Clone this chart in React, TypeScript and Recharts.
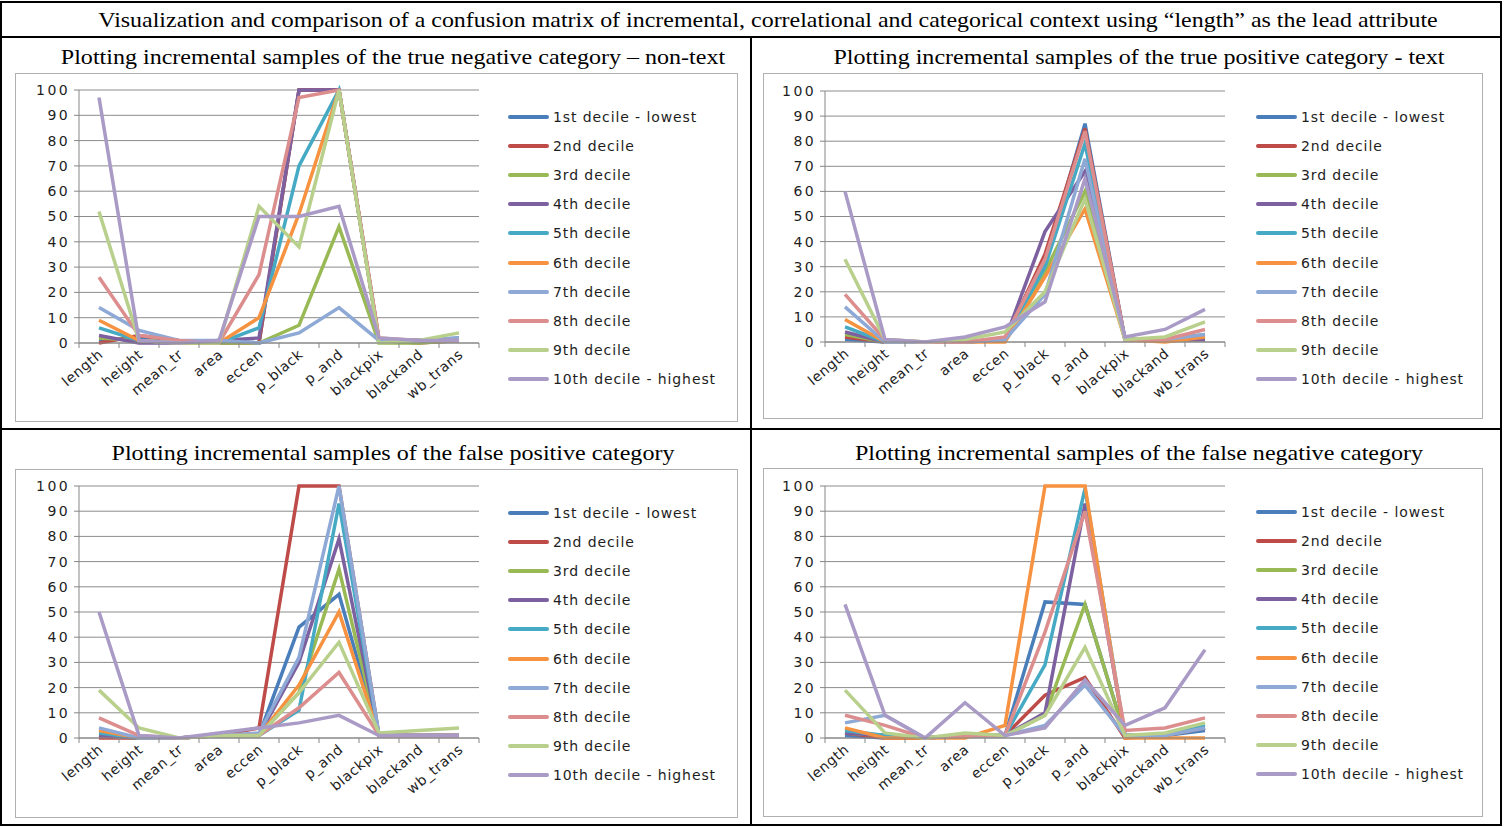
import React from 'react';
import { LineChart, Line, XAxis, YAxis, CartesianGrid } from 'recharts';

const categories = ['length', 'height', 'mean_tr', 'area', 'eccen', 'p_black', 'p_and', 'blackpix', 'blackand', 'wb_trans'];

const deciles = [
  '1st decile - lowest',
  '2nd decile',
  '3rd decile',
  '4th decile',
  '5th decile',
  '6th decile',
  '7th decile',
  '8th decile',
  '9th decile',
  '10th decile - highest',
];

const decileColors = ['#4a7ebb', '#be4b48', '#98b954', '#7d60a0', '#46aac5', '#f69240', '#8ea9d6', '#dc8e8e', '#b8d08c', '#a99ac6'];

const yTicks = [0, 10, 20, 30, 40, 50, 60, 70, 80, 90, 100];

// one row per decile, one column per category
const trueNegative = [
  [1, 2, 0, 1, 0, 100, 100, 1, 1, 2],
  [0, 3, 1, 0, 0, 100, 100, 1, 0, 1],
  [2, 1, 0, 0, 0, 7, 46, 0, 0, 1],
  [3, 0, 0, 1, 2, 100, 100, 1, 1, 1],
  [6, 1, 0, 0, 6, 70, 100, 1, 1, 1],
  [9, 1, 0, 0, 10, 51, 100, 1, 1, 1],
  [14, 5, 1, 1, 0, 4, 14, 1, 1, 2],
  [26, 3, 1, 0, 27, 97, 100, 2, 1, 1],
  [52, 1, 0, 0, 54, 38, 100, 0, 1, 4],
  [97, 1, 0, 1, 50, 50, 54, 2, 1, 1],
];

const truePositive = [
  [1, 0, 0, 0, 1, 32, 87, 1, 1, 1],
  [2, 0, 0, 0, 1, 35, 85, 1, 1, 1],
  [3, 0, 0, 0, 1, 28, 60, 1, 1, 1],
  [4, 0, 0, 0, 1, 44, 68, 1, 1, 1],
  [6, 0, 0, 0, 1, 30, 79, 1, 1, 3],
  [9, 0, 0, 0, 0, 26, 53, 1, 0, 2],
  [14, 0, 0, 0, 1, 19, 73, 1, 1, 3],
  [19, 1, 0, 0, 2, 33, 84, 1, 1, 5],
  [33, 1, 0, 1, 4, 20, 57, 1, 2, 8],
  [60, 1, 0, 2, 6, 16, 65, 2, 5, 13],
];

const falsePositive = [
  [1, 0, 0, 1, 1, 44, 57, 1, 1, 1],
  [0, 0, 0, 1, 4, 100, 100, 1, 1, 1],
  [1, 0, 0, 1, 1, 18, 67, 1, 1, 1],
  [1, 0, 0, 1, 1, 30, 79, 1, 1, 1],
  [2, 0, 0, 1, 1, 11, 93, 1, 1, 1],
  [3, 0, 0, 1, 1, 21, 50, 1, 1, 1],
  [4, 0, 0, 1, 2, 32, 100, 1, 1, 1],
  [8, 1, 0, 1, 1, 12, 26, 1, 1, 1],
  [19, 4, 0, 1, 1, 18, 38, 2, 3, 4],
  [50, 1, 0, 2, 4, 6, 9, 1, 1, 1],
];

const falseNegative = [
  [1, 0, 0, 1, 1, 54, 53, 1, 1, 3],
  [2, 0, 0, 1, 1, 17, 24, 0, 1, 4],
  [2, 1, 0, 1, 1, 9, 53, 1, 1, 4],
  [2, 1, 0, 1, 1, 10, 93, 1, 1, 4],
  [3, 1, 0, 1, 1, 29, 99, 1, 1, 5],
  [4, 0, 0, 0, 5, 100, 100, 0, 0, 0],
  [6, 9, 0, 1, 1, 5, 21, 1, 1, 4],
  [9, 5, 0, 1, 1, 42, 90, 3, 4, 8],
  [19, 2, 0, 2, 1, 9, 36, 1, 2, 6],
  [53, 9, 0, 14, 1, 4, 23, 5, 12, 35],
];

const FONT = '"DejaVu Sans", Verdana, sans-serif';
const SERIF = '"Liberation Serif", "Times New Roman", serif';

// ticks at category edges (integers) draw tick marks, half-steps carry the labels
const xTicks = categories.flatMap((_, i) => [i, i + 0.5]).concat(categories.length);

const CategoryTick = (props: any) => {
  const { x, y, payload } = props;
  const v = payload.value;
  if (Number.isInteger(v)) {
    return <line x1={x} x2={x} y1={y} y2={y + 5} stroke="#868686" />;
  }
  const label = categories[Math.floor(v)];
  const ax = x + 5;
  const ay = y + 13;
  return (
    <text
      x={ax}
      y={ay}
      textAnchor="end"
      transform={`rotate(-40, ${ax}, ${ay})`}
      fontFamily={FONT}
      fontSize={14}
      letterSpacing={0.6}
      fill="#1e1e1e"
    >
      {label}
    </text>
  );
};

interface PanelProps {
  values: number[][];
  left: number;
  top: number;
  width: number;
  height: number;
  yAxisWidth: number;
  plotTop: number;
  plotHeight: number;
}

const Panel = ({ values, left, top, width, height, yAxisWidth, plotTop, plotHeight }: PanelProps) => {
  const data = categories.map((c, i) => {
    const row: Record<string, number | string> = { x: i + 0.5, name: c };
    values.forEach((s, k) => {
      row['d' + k] = s[i];
    });
    return row;
  });
  const plotWidth = 400;
  const xAxisHeight = height - plotTop - plotHeight;

  return (
    <div
      style={{
        position: 'absolute',
        left,
        top,
        width,
        height,
        border: '1px solid #b0b0b0',
        boxSizing: 'border-box',
        background: '#fff',
      }}
    >
      <div style={{ position: 'absolute', left: -1, top: -1 }}>
        <LineChart
          width={width}
          height={height}
          data={data}
          margin={{ top: plotTop, right: width - yAxisWidth - plotWidth, left: 0, bottom: 0 }}
        >
          <CartesianGrid vertical={false} stroke="#8c8c8c" strokeWidth={1} />
          <XAxis
            dataKey="x"
            type="number"
            domain={[0, categories.length]}
            ticks={xTicks}
            interval={0}
            tickLine={false}
            tickSize={0}
            tickMargin={0}
            axisLine={{ stroke: '#868686' }}
            tick={<CategoryTick />}
            height={xAxisHeight}
          />
          <YAxis
            domain={[0, 100]}
            ticks={yTicks}
            interval={0}
            width={yAxisWidth}
            tickSize={5}
            tickMargin={4}
            axisLine={{ stroke: '#868686' }}
            tickLine={{ stroke: '#868686' }}
            tick={{ fontFamily: FONT, fontSize: 14, fill: '#1e1e1e', letterSpacing: 2.4 }}
          />
          {deciles.map((d, k) => (
            <Line
              key={d}
              type="linear"
              dataKey={'d' + k}
              name={d}
              stroke={decileColors[k]}
              strokeWidth={3.5}
              dot={false}
              isAnimationActive={false}
            />
          ))}
        </LineChart>
      </div>
      <div style={{ position: 'absolute', left: 492, top: 43 - 14.5 }}>
        {deciles.map((d, k) => (
          <div key={d} style={{ display: 'flex', alignItems: 'center', height: 29.1 }}>
            <div style={{ width: 41, height: 4, background: decileColors[k], borderRadius: 2 }} />
            <span
              style={{
                marginLeft: 4,
                fontFamily: FONT,
                fontSize: 14,
                letterSpacing: 0.9,
                color: '#1e1e1e',
                whiteSpace: 'nowrap',
              }}
            >
              {d}
            </span>
          </div>
        ))}
      </div>
    </div>
  );
};

const Heading = ({ text, cx, cy, stretch }: { text: string; cx: number; cy: number; stretch: number }) => (
  <div
    style={{
      position: 'absolute',
      left: cx - 750,
      width: 1500,
      top: cy - 13,
      height: 26,
      lineHeight: '26px',
      textAlign: 'center',
      fontFamily: SERIF,
      fontSize: 21,
      color: '#000',
      whiteSpace: 'nowrap',
      transform: `scaleX(${stretch})`,
      transformOrigin: 'center',
    }}
  >
    {text}
  </div>
);

export default function App() {
  return (
    <div style={{ position: 'absolute', left: 0, top: 0, width: 1507, height: 827, background: '#fff', overflow: 'hidden' }}>
      {/* table rules */}
      <div style={{ position: 'absolute', left: 0, top: 1, width: 1502, height: 825, border: '2px solid #000', boxSizing: 'border-box' }} />
      <div style={{ position: 'absolute', left: 0, top: 36, width: 1502, height: 2, background: '#000' }} />
      <div style={{ position: 'absolute', left: 0, top: 428, width: 1502, height: 2, background: '#000' }} />
      <div style={{ position: 'absolute', left: 750, top: 36, width: 2, height: 790, background: '#000' }} />

      <Heading
        text="Visualization and comparison of a confusion matrix of incremental, correlational and categorical context using “length” as the lead attribute"
        cx={768}
        cy={20}
        stretch={1.14}
      />
      <Heading text="Plotting incremental samples of the true negative category – non-text" cx={393} cy={57} stretch={1.145} />
      <Heading text="Plotting incremental samples of the true positive category - text" cx={1139} cy={57} stretch={1.145} />
      <Heading text="Plotting incremental samples of the false positive category" cx={393} cy={453} stretch={1.145} />
      <Heading text="Plotting incremental samples of the false negative category" cx={1139} cy={453} stretch={1.145} />

      <Panel values={trueNegative} left={15} top={73} width={723} height={349} yAxisWidth={64} plotTop={17} plotHeight={253} />
      <Panel values={truePositive} left={763} top={73} width={720} height={346} yAxisWidth={62} plotTop={18} plotHeight={251} />
      <Panel values={falsePositive} left={15} top={469} width={723} height={349} yAxisWidth={64} plotTop={17} plotHeight={252} />
      <Panel values={falseNegative} left={763} top={468} width={720} height={349} yAxisWidth={62} plotTop={18} plotHeight={252} />
    </div>
  );
}
